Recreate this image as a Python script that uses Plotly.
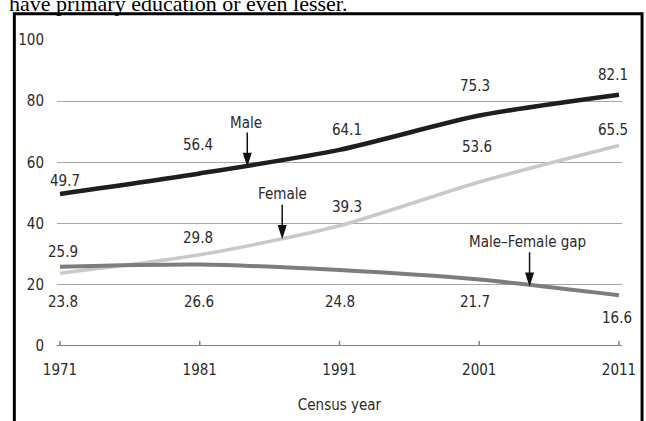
import numpy as np
import plotly.graph_objects as go

# Census data: share (%) with primary education or less
years = [1971, 1981, 1991, 2001, 2011]
year_labels = ["1971", "1981", "1991", "2001", "2011"]
male = [49.7, 56.4, 64.1, 75.3, 82.1]
female = [23.8, 29.8, 39.3, 53.6, 65.5]
gap = [25.9, 26.6, 24.8, 21.7, 16.6]
y_ticks = [0, 20, 40, 60, 80, 100]

# pixel offsets (x, y) of each value label relative to its point
male_offsets = [(5, 13), (-2, 28), (7, 20), (-4, 30), (-6, 20)]
female_offsets = [(3, -29), (-2, 17), (7, 19), (-2, 35), (-6, 16)]
gap_offsets = [(3, 15), (-1, -37), (0, -32), (-4, -22), (-2, -23)]

FONT = "Liberation Sans Narrow, DejaVu Sans Condensed, Arial Narrow, sans-serif"
TXT = "#2a2a2a"

fig = go.Figure()

series = [
    ("Female", female, "#c9c9c9", 3.5),
    ("Male–Female gap", gap, "#7d7d7d", 4),
    ("Male", male, "#1e1e1e", 4.5),
]
for name, vals, color, width in series:
    fig.add_trace(go.Scatter(
        x=years, y=vals, mode="lines", name=name,
        line=dict(color=color, width=width, shape="spline", smoothing=0.7),
        hoverinfo="skip", showlegend=False,
    ))

annotations = []
for vals, offs in [(male, male_offsets), (female, female_offsets), (gap, gap_offsets)]:
    for yr, v, (dx, dy) in zip(years, vals, offs):
        annotations.append(dict(
            x=yr, y=v, text=f"{v:.1f}", showarrow=False,
            xshift=dx, yshift=dy,
            font=dict(family=FONT, size=15, color=TXT),
        ))

# series name callouts with arrows pointing at the lines
callouts = [("Male", 1984.4, male, -1, 42), ("Female", 1986.9, female, 0, 44),
            ("Male–Female gap", 2004.6, gap, -2, 43)]
shapes = []
for text, xa, vals, tx, ty in callouts:
    ya = float(np.interp(xa, years, vals))
    annotations.append(dict(
        x=xa, y=ya, text=text, showarrow=False, xshift=tx, yshift=ty,
        font=dict(family=FONT, size=15, color=TXT),
    ))
    shapes.append(dict(
        type="path", xref="x", yref="y", xsizemode="pixel", ysizemode="pixel",
        xanchor=xa, yanchor=ya,
        path="M0,1 L-3.5,12 L3.5,12 Z M0,12 L0,33",
        fillcolor="#111111", line=dict(color="#111111", width=1.5),
    ))

# surrounding text line and frame
annotations.append(dict(
    xref="paper", yref="paper", x=-0.088, y=1.118, xanchor="left", yanchor="middle",
    text="have primary education or even lesser.", showarrow=False,
    font=dict(family="Liberation Serif, Times New Roman, serif", size=22, color="#000000"),
))
shapes.append(dict(
    type="rect", xref="paper", yref="paper",
    x0=-0.0755, x1=1.0355, y0=-0.30, y1=1.0855,
    line=dict(color="#000000", width=3), fillcolor="rgba(0,0,0,0)", layer="above",
))

fig.update_layout(
    width=646, height=421,
    margin=dict(l=57, r=24, t=40, b=75),
    paper_bgcolor="white", plot_bgcolor="white",
    font=dict(family=FONT, size=15, color=TXT),
    annotations=annotations, shapes=shapes,
    xaxis=dict(
        range=[1970.785, 2011.215], tickvals=years, ticktext=year_labels,
        showgrid=False, zeroline=False, showline=False, automargin=False,
        ticks="", ticklabelstandoff=13,
        title=dict(text="Census year", standoff=21, font=dict(family=FONT, size=15, color=TXT)),
    ),
    yaxis=dict(
        range=[0, 100], tickvals=y_ticks, showgrid=True, gridcolor="#a8a8a8", gridwidth=1,
        zeroline=False, showline=False, ticks="", ticklabelstandoff=12,
    ),
)

# baseline axis at zero with short upward ticks at each census year
fig.add_shape(type="line", xref="paper", yref="y", x0=0.0, x1=1.0, y0=0, y1=0,
              line=dict(color="#808080", width=2))
for yr in years:
    fig.add_shape(type="line", xref="x", yref="y", x0=yr, x1=yr, y0=0, y1=5,
                  ysizemode="pixel", yanchor=0,
                  line=dict(color="#808080", width=1.5))

fig.write_html("out.html")
